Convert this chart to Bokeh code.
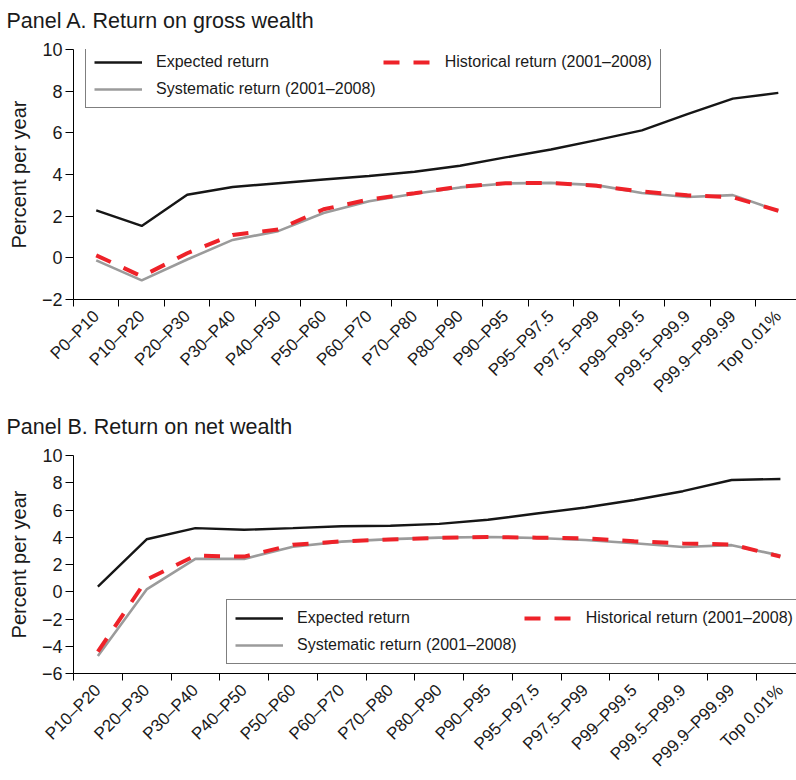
import math
from bokeh.plotting import figure
from bokeh.models import Range1d, FixedTicker, Legend, LegendItem, Title
from bokeh.layouts import column
from bokeh.embed import file_html
from bokeh.resources import INLINE

# ---------------- data ----------------
cats_a = ["P0–P10", "P10–P20", "P20–P30", "P30–P40", "P40–P50", "P50–P60",
          "P60–P70", "P70–P80", "P80–P90", "P90–P95", "P95–P97.5", "P97.5–P99",
          "P99–P99.5", "P99.5–P99.9", "P99.9–P99.99", "Top 0.01%"]
expected_a = [2.28, 1.53, 3.03, 3.40, 3.58, 3.76, 3.93, 4.13, 4.42, 4.82,
              5.20, 5.65, 6.12, 6.90, 7.64, 7.92]
systematic_a = [-0.12, -1.08, -0.08, 0.86, 1.28, 2.15, 2.72, 3.08, 3.38, 3.57,
                3.60, 3.49, 3.11, 2.92, 3.01, 2.25]
historical_a = [0.12, -0.89, 0.22, 1.10, 1.36, 2.33, 2.80, 3.10, 3.42, 3.58,
                3.60, 3.46, 3.18, 3.00, 2.91, 2.26]

cats_b = ["P10–P20", "P20–P30", "P30–P40", "P40–P50", "P50–P60",
          "P60–P70", "P70–P80", "P80–P90", "P90–P95", "P95–P97.5", "P97.5–P99",
          "P99–P99.5", "P99.5–P99.9", "P99.9–P99.99", "Top 0.01%"]
expected_b = [0.37, 3.85, 4.67, 4.55, 4.67, 4.81, 4.84, 4.98, 5.28, 5.74,
              6.18, 6.73, 7.38, 8.20, 8.28]
systematic_b = [-4.71, 0.17, 2.41, 2.41, 3.30, 3.68, 3.86, 3.97, 4.02, 3.95,
                3.80, 3.56, 3.28, 3.42, 2.65]
historical_b = [-4.40, 0.89, 2.65, 2.58, 3.45, 3.70, 3.84, 3.95, 4.02, 3.97,
                3.93, 3.70, 3.55, 3.47, 2.58]

yticks_a = [-2, 0, 2, 4, 6, 8, 10]
ylabels_a = ["−2", "0", "2", "4", "6", "8", "10"]
yticks_b = [-6, -4, -2, 0, 2, 4, 6, 8, 10]
ylabels_b = ["−6", "−4", "−2", "0", "2", "4", "6", "8", "10"]

title_a = "Panel A. Return on gross wealth"
title_b = "Panel B. Return on net wealth"
ylab = "Percent per year"
leg_labels = ["Expected return", "Historical return (2001–2008)", "Systematic return (2001–2008)"]

FONT = "Liberation Sans"
TXT = "#1a1a1a"


def make_panel(title, cats, exp, sysr, hist, yticks, ylabels, yr, x_end, height, leg_loc):
    n = len(cats)
    xs = [i + 0.5 for i in range(n)]
    p = figure(width=796, height=height, x_range=Range1d(0, x_end), y_range=Range1d(*yr),
               output_backend="svg", toolbar_location=None,
               min_border_left=73, min_border_right=0, min_border_top=0, min_border_bottom=0)
    p.title_location = None
    p.outline_line_color = None
    p.xgrid.visible = False
    p.ygrid.visible = False
    p.background_fill_color = "white"
    p.border_fill_color = "white"

    # spacer between the panel title and the frame (nearest to the frame)
    p.add_layout(Title(text=" ", text_font_size="2px", standoff=6), "above")
    p.add_layout(Title(text=title, text_font=FONT, text_font_size="21.5px",
                       text_font_style="normal", text_color=TXT, align="left",
                       offset=-67, standoff=13), "above")

    xa = p.xaxis[0]
    xa.ticker = FixedTicker(ticks=xs, minor_ticks=list(range(n + 1)))
    xa.major_label_overrides = {x: c for x, c in zip(xs, cats)}
    xa.major_label_orientation = math.pi / 4
    xa.major_tick_out = 7
    xa.major_tick_in = 0
    xa.major_tick_line_color = None
    xa.minor_tick_out = 7
    xa.minor_tick_in = 0
    xa.minor_tick_line_color = "black"
    xa.axis_line_color = "black"
    xa.major_label_text_font = FONT
    xa.major_label_text_font_size = "17px"
    xa.major_label_text_color = TXT
    xa.major_label_standoff = 7

    ya = p.yaxis[0]
    ya.ticker = FixedTicker(ticks=yticks)
    ya.major_label_overrides = {t: l for t, l in zip(yticks, ylabels)}
    ya.major_tick_out = 8
    ya.major_tick_in = 0
    ya.minor_tick_line_color = None
    ya.axis_line_color = "black"
    ya.major_tick_line_color = "black"
    ya.major_label_text_font = FONT
    ya.major_label_text_font_size = "18px"
    ya.major_label_text_color = TXT
    ya.major_label_standoff = 3
    ya.axis_label = ylab
    ya.axis_label_text_font = FONT
    ya.axis_label_text_font_size = "20px"
    ya.axis_label_text_font_style = "normal"
    ya.axis_label_text_color = TXT
    ya.axis_label_standoff = 9

    r_sys = p.line(xs, sysr, line_color="#9b9b9b", line_width=2.6)
    r_hist = p.line(xs, hist, line_color="#ee2229", line_width=4, line_dash="16 14")
    r_exp = p.line(xs, exp, line_color="#161616", line_width=2.4)

    legend = Legend(items=[LegendItem(label=leg_labels[0], renderers=[r_exp]),
                           LegendItem(label=leg_labels[1], renderers=[r_hist]),
                           LegendItem(label=leg_labels[2], renderers=[r_sys])],
                    orientation="horizontal", ncols=2, location=leg_loc)
    legend.border_line_color = "black"
    legend.border_line_width = 1
    legend.background_fill_color = "white"
    legend.background_fill_alpha = 1
    legend.label_text_font = FONT
    legend.label_text_font_size = "16px"
    legend.label_text_color = TXT
    legend.glyph_width = 48
    legend.glyph_height = 20
    legend.label_height = 20
    legend.label_standoff = 14
    legend.spacing = 7
    legend.padding = 8
    legend.margin = 0
    p.add_layout(legend)
    return p


pa = make_panel(title_a, cats_a, expected_a, systematic_a, historical_a,
                yticks_a, ylabels_a, (-2, 10), 15.9, 406, (12, 191))
pb = make_panel(title_b, cats_b, expected_b, systematic_b, historical_b,
                yticks_b, ylabels_b, (-6, 10), 14.83, 374, (153, 9))

layout = column(pa, pb, spacing=0)
open("out.html", "w").write(file_html(layout, INLINE))
